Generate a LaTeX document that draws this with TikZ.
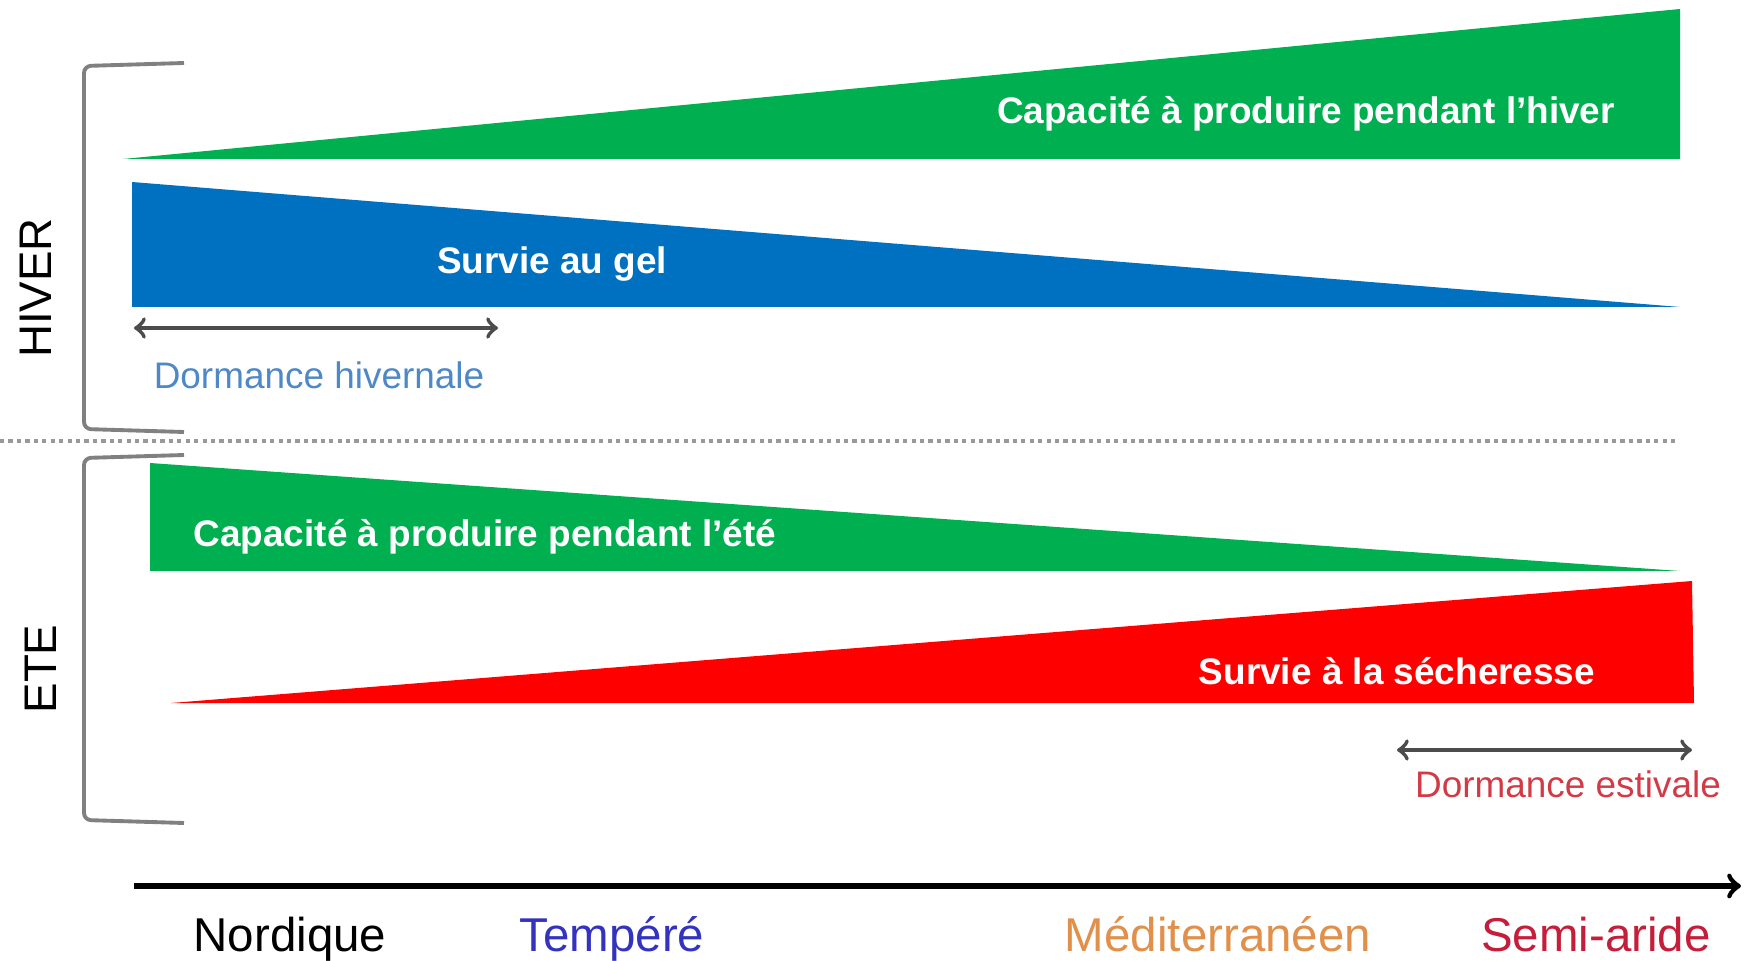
\documentclass[tikz,border=0pt]{standalone}
\usepackage{fontspec}
\setmainfont{Liberation Sans}
\definecolor{vertprod}{HTML}{00B050}
\definecolor{bleugel}{HTML}{0070C0}
\definecolor{rougesec}{HTML}{FF0000}
\definecolor{bleutemp}{HTML}{3333C0}
\definecolor{orangemed}{HTML}{E0904A}
\definecolor{rougearide}{HTML}{C41E3A}
\definecolor{bleudorm}{HTML}{4F88C6}
\definecolor{rougedorm}{HTML}{D23A46}
\tikzset{
  wedgelabel/.style={text=white,font=\bfseries\fontsize{10.5}{12}\selectfont},
  dormlabel/.style={font=\fontsize{10.5}{12}\selectfont},
  climlabel/.style={font=\fontsize{13.5}{16}\selectfont,anchor=base},
  seasonlabel/.style={font=\fontsize{13}{15}\selectfont,rotate=90},
  bracketline/.style={draw=gray,line width=1.1pt,rounded corners=2pt},
  dormarrow/.style={<->,draw=black!70,line width=1.2pt},
}
\begin{document}
\begin{tikzpicture}[x=0.01cm,y=-0.01cm]
\useasboundingbox (0,0) rectangle (1748,961);

% hiver
\fill[vertprod] (123,159) -- (1680,9) -- (1680,159) -- cycle;
\fill[bleugel] (132,182) -- (1680,307) -- (132,307) -- cycle;
\node[wedgelabel] (prodhiver) at (1306,114) {Capacité à produire pendant l'hiver};
\node[wedgelabel] (gel) at (552,264) {Survie au gel};

\coordinate (dh1) at (134,328);
\coordinate (dh2) at (498,328);
\draw[dormarrow] (dh1) -- (dh2);
\node[dormlabel,text=bleudorm] (dormhiver) at (319,375) {Dormance hivernale};

\draw[bracketline] (184,63) -- (84,66) -- (84,429) -- (184,432);
\node[seasonlabel] (hiver) at (36,288) {HIVER};

\draw[gray!80,line width=1.3pt,dash pattern=on 1.2pt off 1.2pt] (0,441) -- (1678,441);

% ete
\fill[vertprod] (150,463) -- (1680,571) -- (150,571) -- cycle;
\fill[rougesec] (171,703) -- (1692,581) -- (1694,703) -- cycle;
\node[wedgelabel] (prodete) at (485,537) {Capacité à produire pendant l'été};
\node[wedgelabel] (secheresse) at (1397,671) {Survie à la sécheresse};

\coordinate (de1) at (1397,750);
\coordinate (de2) at (1692,750);
\draw[dormarrow] (de1) -- (de2);
\node[dormlabel,text=rougedorm] (dormete) at (1568,784) {Dormance estivale};

\draw[bracketline] (184,455) -- (84,458) -- (84,820) -- (184,823);
\node[seasonlabel] (ete) at (41,669) {ETE};

% axe climats
\coordinate (ax1) at (134,886);
\coordinate (ax2) at (1741,886);
\draw[->,line width=1.5pt] (ax1) -- (ax2);
\node[climlabel] (nord) at (290,951) {Nordique};
\node[climlabel,text=bleutemp] (temp) at (612,951) {Tempéré};
\node[climlabel,text=orangemed] (med) at (1218,951) {Méditerranéen};
\node[climlabel,text=rougearide] (aride) at (1596,951) {Semi-aride};
\end{tikzpicture}
\end{document}
